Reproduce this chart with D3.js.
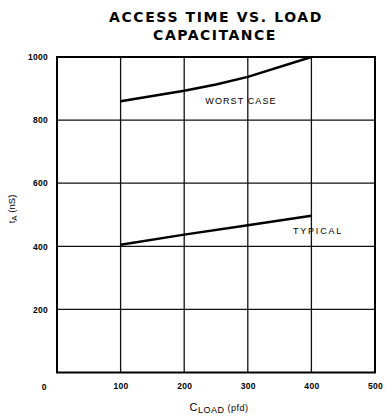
<!DOCTYPE html>
<html><head><meta charset="utf-8">
<script src="https://cdn.jsdelivr.net/npm/d3@7"></script>
<style>body{margin:0;background:#fff}svg{display:block}</style>
</head><body><svg id="c" width="386" height="416"></svg>
<script>
const xTicks = [100, 200, 300, 400, 500];
const yTicks = [200, 400, 600, 800, 1000];
const worstX = [100, 200, 250, 300, 400];
const worstY = [860, 893, 913, 937, 1000];
const typX = [100, 200, 300, 400];
const typY = [405, 437, 467, 497];

const svg = d3.select("#c");
const font = "Liberation Sans, Arial, sans-serif";
const tfont = "DejaVu Sans, sans-serif";
const x = d3.scaleLinear().domain([0, 500]).range([57, 375]);
const y = d3.scaleLinear().domain([0, 1000]).range([372.5, 57]);

// title
svg.append("text").attr("x", 216).attr("y", 22).attr("text-anchor", "middle")
  .attr("font-family", tfont).attr("font-weight", "bold").attr("font-size", 14)
  .attr("letter-spacing", 1.6).text("ACCESS TIME VS. LOAD");
svg.append("text").attr("x", 215).attr("y", 40).attr("text-anchor", "middle")
  .attr("font-family", tfont).attr("font-weight", "bold").attr("font-size", 14)
  .attr("letter-spacing", 1.5).text("CAPACITANCE");

// grid
const g = svg.append("g");
g.selectAll("line.v").data(xTicks.slice(0, 4)).join("line")
  .attr("x1", d => x(d)).attr("x2", d => x(d)).attr("y1", y(1000)).attr("y2", y(0))
  .attr("stroke", "#111").attr("stroke-width", 1.3);
g.selectAll("line.h").data(yTicks.slice(0, 4)).join("line")
  .attr("y1", d => y(d)).attr("y2", d => y(d)).attr("x1", x(0)).attr("x2", x(500))
  .attr("stroke", "#111").attr("stroke-width", 1.3);
// frame
g.append("rect").attr("x", x(0)).attr("y", y(1000)).attr("width", x(500) - x(0))
  .attr("height", y(0) - y(1000)).attr("fill", "none").attr("stroke", "#000").attr("stroke-width", 2);

// axes labels
const yAxis = d3.axisLeft(y).tickValues(yTicks).tickFormat(d3.format("d")).tickSize(0).tickPadding(9);
const ya = svg.append("g").attr("transform", `translate(${x(0)},0)`).call(yAxis);
ya.select(".domain").remove();
ya.selectAll("text").attr("font-family", font).attr("font-weight", "bold").attr("font-size", 8.5)
  .attr("letter-spacing", 0.3).attr("fill", "#000");

const xAxis = d3.axisBottom(x).tickValues(xTicks).tickFormat(d3.format("d")).tickSize(0).tickPadding(10);
const xa = svg.append("g").attr("transform", `translate(0,${y(0)})`).call(xAxis);
xa.select(".domain").remove();
xa.selectAll("text").attr("font-family", font).attr("font-weight", "bold").attr("font-size", 8.5)
  .attr("letter-spacing", 0.3).attr("fill", "#000");
svg.append("text").attr("x", 44).attr("y", y(0) + 17).attr("text-anchor", "middle")
  .attr("font-family", font).attr("font-weight", "bold").attr("font-size", 8.5).text("0");

// axis titles
const xt = svg.append("text").attr("x", 219).attr("y", 411).attr("text-anchor", "middle")
  .attr("font-family", font).attr("font-size", 10).attr("letter-spacing", 0.5);
xt.append("tspan").attr("font-size", 11).text("C");
xt.append("tspan").attr("dy", 2).attr("font-size", 9).text("LOAD");
xt.append("tspan").attr("dy", -2).attr("font-size", 9).text(" (pfd)");

const yt = svg.append("text").attr("transform", "translate(15,209) rotate(-90)").attr("text-anchor", "middle")
  .attr("font-family", font).attr("font-size", 9.5);
yt.append("tspan").text("t");
yt.append("tspan").attr("dy", 2).attr("font-size", 8).text("A");
yt.append("tspan").attr("dy", -2).text(" (nS)");

// lines
const line = d3.line().x(d => x(d[0])).y(d => y(d[1]));
svg.append("path").datum(worstX.map((v, i) => [v, worstY[i]])).attr("d", line)
  .attr("fill", "none").attr("stroke", "#000").attr("stroke-width", 2.5);
svg.append("path").datum(typX.map((v, i) => [v, typY[i]])).attr("d", line)
  .attr("fill", "none").attr("stroke", "#000").attr("stroke-width", 2.5);

svg.append("text").attr("x", 241).attr("y", 104).attr("text-anchor", "middle")
  .attr("font-family", font).attr("font-size", 9).attr("letter-spacing", 1.1).text("WORST CASE");
svg.append("text").attr("x", 318).attr("y", 234).attr("text-anchor", "middle")
  .attr("font-family", font).attr("font-size", 9).attr("letter-spacing", 1.8).text("TYPICAL");
</script></body></html>
